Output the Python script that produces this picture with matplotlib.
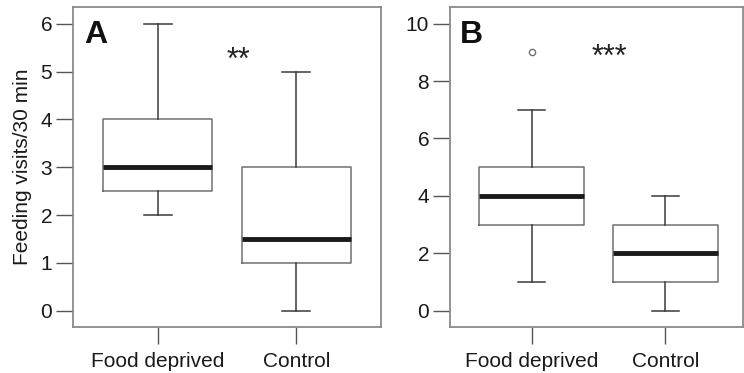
import matplotlib.pyplot as plt

plt.rcParams['font.family'] = ['Liberation Sans', 'DejaVu Sans']

groups = ['Food deprived', 'Control']

# panel A: feeding visits / 30 min
a_low = [2, 0]
a_q1 = [2.5, 1]
a_med = [3, 1.5]
a_q3 = [4, 3]
a_high = [6, 5]
a_fliers = [[], []]

# panel B
b_low = [1, 0]
b_q1 = [3, 1]
b_med = [4, 2]
b_q3 = [5, 3]
b_high = [7, 4]
b_fliers = [[9], []]


def make_stats(low, q1, med, q3, high, fliers):
    return [dict(whislo=low[i], q1=q1[i], med=med[i], q3=q3[i],
                 whishi=high[i], fliers=fliers[i], label=groups[i])
            for i in range(len(groups))]


fig = plt.figure(figsize=(7.44, 3.73), dpi=100)
axA = fig.add_axes([73 / 744, 1 - 327 / 373, 308 / 744, 320 / 373])
axB = fig.add_axes([450 / 744, 1 - 327 / 373, 293 / 744, 320 / 373])

frame = '#8a8a8a'
for ax, stats, ylim, yt, letter, stars, star_y in [
        (axA, make_stats(a_low, a_q1, a_med, a_q3, a_high, a_fliers),
         (-0.34, 6.35), range(0, 7), 'A', '**', 5.22),
        (axB, make_stats(b_low, b_q1, b_med, b_q3, b_high, b_fliers),
         (-0.57, 10.58), range(0, 11, 2), 'B', '***', 8.8)]:
    ax.bxp(stats, positions=[1, 2], widths=0.79, capwidths=0.2,
           patch_artist=False,
           boxprops=dict(color='#707070', linewidth=1.1),
           whiskerprops=dict(color='#3a3a3a', linewidth=1.1),
           capprops=dict(color='#3a3a3a', linewidth=1.1),
           medianprops=dict(color='#1a1a1a', linewidth=3.5,
                            solid_capstyle='butt'),
           flierprops=dict(marker='o', markersize=4.5, markerfacecolor='none',
                           markeredgecolor='#707070', markeredgewidth=1))
    ax.set_xlim(0.39, 2.61 if ax is axA else 2.58)
    ax.set_ylim(*ylim)
    ax.set_yticks(list(yt))
    ax.set_xticks([1, 2])
    ax.set_xticklabels(groups)
    for s in ax.spines.values():
        s.set_color(frame)
        s.set_linewidth(1.3)
    ax.tick_params(direction='out', length=12, width=1, color='#555555',
                   labelsize=15, labelcolor='#1a1a1a', pad=3)
    ax.tick_params(axis='x', pad=6)
    ax.text(0.035, 0.96, letter, transform=ax.transAxes, fontsize=23,
            fontweight='bold', va='top', ha='left', color='#111111')
    ax.text(1.58, star_y, stars, fontsize=22, ha='center', va='center',
            color='#222222')

axA.set_ylabel('Feeding visits/30 min', fontsize=15, color='#1a1a1a',
               labelpad=6)

fig.savefig('out.png', dpi=100)
